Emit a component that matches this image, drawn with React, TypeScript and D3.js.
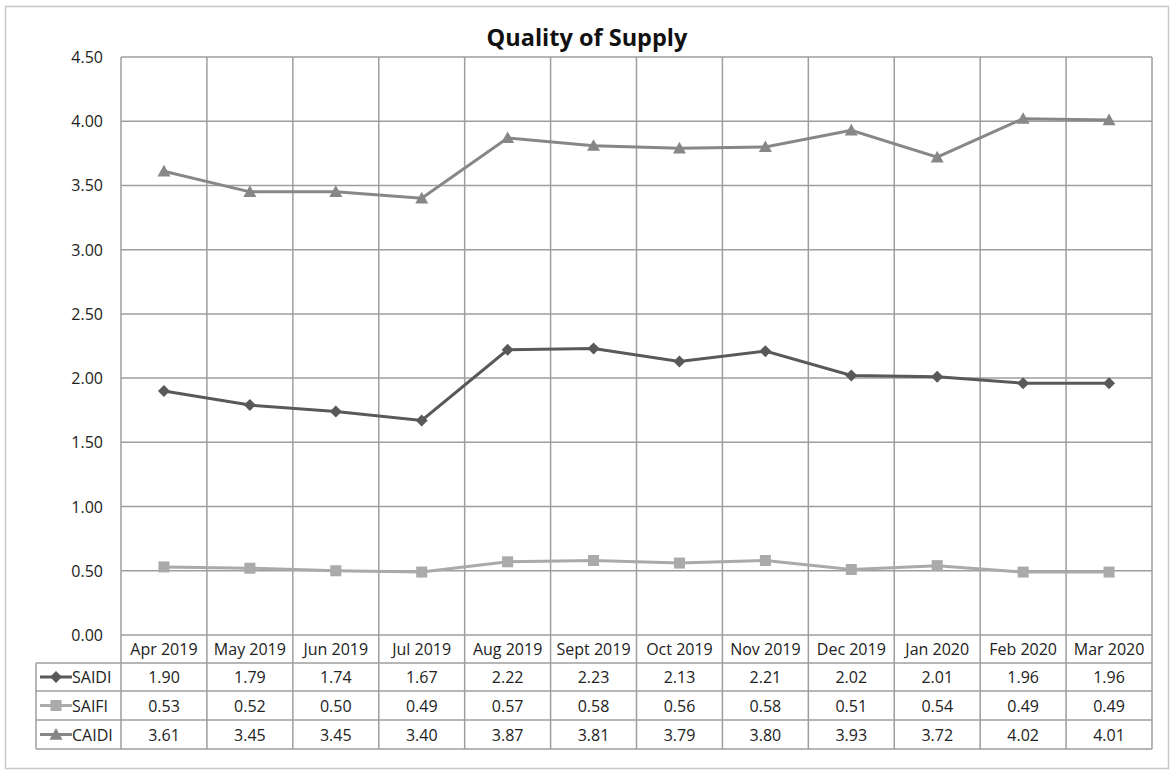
import React from "react";
import * as d3 from "d3";

const months = ["Apr 2019", "May 2019", "Jun 2019", "Jul 2019", "Aug 2019", "Sept 2019", "Oct 2019", "Nov 2019", "Dec 2019", "Jan 2020", "Feb 2020", "Mar 2020"];
const saidi = [1.90, 1.79, 1.74, 1.67, 2.22, 2.23, 2.13, 2.21, 2.02, 2.01, 1.96, 1.96];
const saifi = [0.53, 0.52, 0.50, 0.49, 0.57, 0.58, 0.56, 0.58, 0.51, 0.54, 0.49, 0.49];
const caidi = [3.61, 3.45, 3.45, 3.40, 3.87, 3.81, 3.79, 3.80, 3.93, 3.72, 4.02, 4.01];
const yTicks = [0, 0.5, 1, 1.5, 2, 2.5, 3, 3.5, 4, 4.5];

const seriesList = [
  { name: "SAIDI", values: saidi, color: "#595959", marker: "diamond" },
  { name: "SAIFI", values: saifi, color: "#aaaaaa", marker: "square" },
  { name: "CAIDI", values: caidi, color: "#878787", marker: "triangle" },
];

const W = 1171;
const H = 770;
const left = 121;
const right = 1152;
const top = 57;
const bottom = 635;
const rowBounds = [635, 663, 691, 720, 749];
const tableLeft = 36;
const gridColor = "#9e9e9e";
const font = "Open Sans, sans-serif";
const fs = 16;

function Marker({ kind, x, y, color }: { kind: string; x: number; y: number; color: string }) {
  if (kind === "diamond") {
    const s = 6;
    return <path d={`M${x},${y - s}L${x + s},${y}L${x},${y + s}L${x - s},${y}Z`} fill={color} />;
  }
  if (kind === "square") {
    const s = 5.5;
    return <rect x={x - s} y={y - s} width={2 * s} height={2 * s} fill={color} />;
  }
  const s = 6.5;
  return <path d={`M${x},${y - s}L${x + s},${y + s * 0.8}L${x - s},${y + s * 0.8}Z`} fill={color} />;
}

export default function App() {
  const x = d3.scaleBand<string>().domain(months).range([left, right]);
  const y = d3.scaleLinear().domain([0, 4.5]).range([bottom, top]);
  const cx = (m: string) => (x(m) as number) + x.bandwidth() / 2;
  const line = d3
    .line<number>()
    .x((_, i) => cx(months[i]))
    .y((v) => y(v));

  const colEdges = months.map((m) => x(m) as number).concat([right]);

  return (
    <svg width={W} height={H} style={{ position: "absolute", left: 0, top: 0 }} fontFamily={font}>
      <rect x={0} y={0} width={W} height={H} fill="#fff" />
      <rect x={5.5} y={6.5} width={1163} height={762} fill="none" stroke="#c8c8c8" strokeWidth={1.5} />
      <text x={587} y={46} textAnchor="middle" fontSize={23.5} fontWeight="bold" fill="#111">
        Quality of Supply
      </text>

      {/* horizontal grid lines */}
      {yTicks.map((t) => (
        <line key={t} x1={left} x2={right} y1={y(t)} y2={y(t)} stroke={gridColor} strokeWidth={1.5} />
      ))}
      {/* vertical column lines through plot and table */}
      {colEdges.map((cxv, i) => (
        <line key={i} x1={cxv} x2={cxv} y1={top} y2={rowBounds[4]} stroke={gridColor} strokeWidth={1.5} />
      ))}
      {/* table rows */}
      {rowBounds.slice(1).map((rb) => (
        <line key={rb} x1={tableLeft} x2={right} y1={rb} y2={rb} stroke={gridColor} strokeWidth={1.5} />
      ))}
      <line x1={tableLeft} x2={tableLeft} y1={rowBounds[1]} y2={rowBounds[4]} stroke={gridColor} strokeWidth={1.5} />

      {/* y tick labels */}
      {yTicks.map((t) => (
        <text key={t} x={103} y={y(t) + 6} textAnchor="end" fontSize={fs} fill="#222">
          {t.toFixed(2)}
        </text>
      ))}

      {/* header month labels */}
      {months.map((m) => (
        <text key={m} x={cx(m)} y={655} textAnchor="middle" fontSize={fs} fill="#222">
          {m}
        </text>
      ))}

      {/* series lines and markers */}
      {seriesList.map((s) => (
        <g key={s.name}>
          <path d={line(s.values) || ""} fill="none" stroke={s.color} strokeWidth={3} />
          {s.values.map((v, i) => (
            <Marker key={i} kind={s.marker} x={cx(months[i])} y={y(v)} color={s.color} />
          ))}
        </g>
      ))}

      {/* data table rows */}
      {seriesList.map((s, r) => {
        const yc = (rowBounds[r + 1] + rowBounds[r + 2]) / 2;
        return (
          <g key={s.name}>
            <line x1={40} x2={72} y1={yc} y2={yc} stroke={s.color} strokeWidth={3} />
            <Marker kind={s.marker} x={56} y={yc} color={s.color} />
            <text x={72} y={yc + 6} fontSize={fs} fill="#222">
              {s.name}
            </text>
            {s.values.map((v, i) => (
              <text key={i} x={cx(months[i])} y={yc + 6} textAnchor="middle" fontSize={fs} fill="#222">
                {v.toFixed(2)}
              </text>
            ))}
          </g>
        );
      })}
    </svg>
  );
}
